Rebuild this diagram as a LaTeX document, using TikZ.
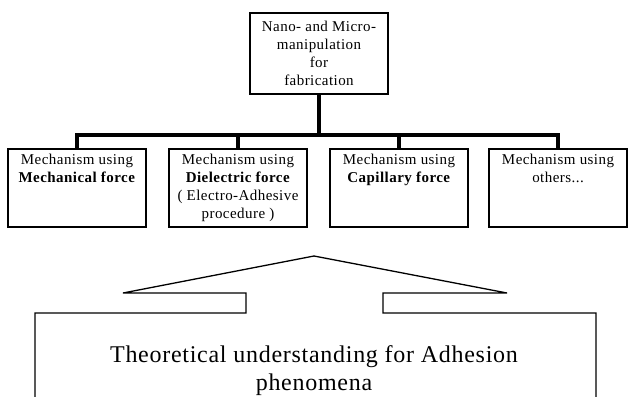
\documentclass[tikz,border=0pt]{standalone}
\usepackage{fontspec}
\setmainfont{Liberation Serif}[LetterSpace=3]
\usepackage{tikz}
\usetikzlibrary{positioning,calc}

\newcommand{\mechtext}[1]{\parbox[c][78pt][t]{136pt}{\centering\rule{0pt}{15pt}#1}}

\begin{document}
\begin{tikzpicture}[x=1pt,y=-1pt,
			fabbox/.style={draw=black,line width=1.6pt,minimum width=138pt,minimum height=81pt,align=center,inner sep=2pt,font=\fontsize{15}{18}\selectfont},
			mechbox/.style={draw=black,line width=1.6pt,inner sep=0pt,minimum width=138pt,font=\fontsize{15}{18}\selectfont},
			bus/.style={line width=4pt},
			roof/.style={line width=1.3pt,line join=miter}]
		\clip (0,0) rectangle (628,396);
		\path 	(319,53.5) 	node 	(fab) [fabbox] {Nano- and Micro-\\manipulation\\for\\fabrication}
		        (77,188) 	node 	(mech) [mechbox] {\mechtext{Mechanism using\\\textbf{Mechanical force}}}
		        (238,188) 	node 	(diel) [mechbox] {\mechtext{Mechanism using\\\textbf{Dielectric force}\\( Electro-Adhesive\\procedure )}}
		        (399,188) 	node 	(cap) [mechbox] {\mechtext{Mechanism using\\\textbf{Capillary force}}}
		        (558,188) 	node 	(oth) [mechbox] {\mechtext{Mechanism using\\others...}}
		        (314,371) 	node 	(adh) [font=\fontsize{24}{28}\selectfont, align=center] {Theoretical understanding for Adhesion\\phenomena};
		\coordinate (bus) at (319,135);
		\draw [bus] (fab) -- (bus);
		\draw [bus] (mech.north) |- (bus) -| (oth.north);
		\draw [bus] (diel.north) -- (diel.north |- bus) (cap.north) -- (cap.north |- bus);
		\draw [roof] (35,400) |- (246,313) |- (123,293) -- (314,256) -- (507,293) -| (383,313) -| (596,400);
	\end{tikzpicture}
\end{document}
